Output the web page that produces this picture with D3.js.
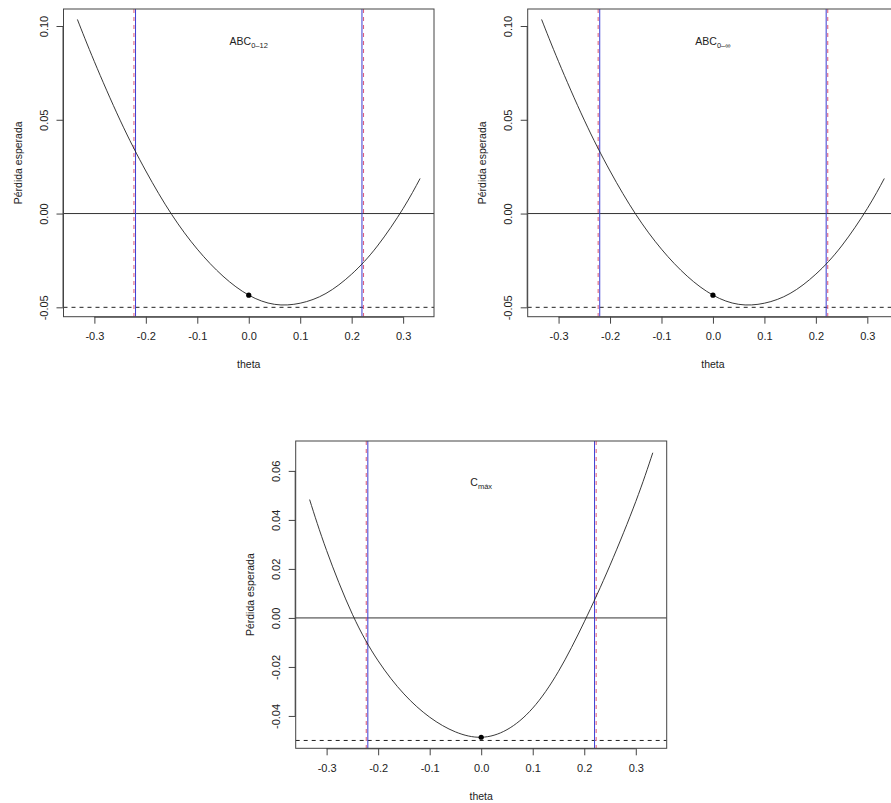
<!DOCTYPE html>
<html>
<head>
<meta charset="utf-8">
<script src="https://cdn.jsdelivr.net/npm/d3@7"></script>
<style>
  body { margin: 0; background: #fff; }
  svg { display: block; font-family: "Liberation Sans", Arial, sans-serif; }
  .tickLabel { font-size: 11px; fill: #222; }
  .axisText { font-size: 10.5px; fill: #222; }
</style>
</head>
<body>
<div class="chart"></div>
<script>
// values
var theta = [-0.333, -0.30, -0.25, -0.20, -0.15, -0.10, -0.05, 0, 0.05, 0.10, 0.15, 0.20, 0.25, 0.30, 0.333];
var lossABC012 = [0.1035, 0.0810, 0.0498, 0.0227, -0.0004, -0.0190, -0.0334, -0.0435, -0.0484, -0.0478, -0.0426, -0.0323, -0.0173, 0.0027, 0.0187];
var lossABCinf = [0.1035, 0.0810, 0.0498, 0.0227, -0.0004, -0.0190, -0.0334, -0.0435, -0.0484, -0.0478, -0.0426, -0.0323, -0.0173, 0.0027, 0.0187];
var lossCmax = [0.0483, 0.0275, 0.0015, -0.0175, -0.0310, -0.0405, -0.0465, -0.0487, -0.0456, -0.0368, -0.0218, -0.0016, 0.0215, 0.0475, 0.0674];

var xTicks = [-0.3, -0.2, -0.1, 0.0, 0.1, 0.2, 0.3];
var yTicksABC = [-0.05, 0.00, 0.05, 0.10];
var yTicksC = [-0.04, -0.02, 0.00, 0.02, 0.04, 0.06];

var blueLimits = [-0.22, 0.22];
var redLimits = [-0.2231, 0.2231];
var hLines = [0];
var dashedLines = [-0.05];

var pointTheta = 0;
var labelY = [0.09, 0.09, 0.054];

// R style numbers, plain hyphen for negatives
var fmt1 = d => d3.format(".1f")(d).replace("\u2212", "-");
var fmt2 = d => d3.format(".2f")(d).replace("\u2212", "-");

// svg
var widthSVG = 891;
var heightSVG = 803;

var svg = d3.select(".chart")
  .append("svg")
  .attr("width", widthSVG)
  .attr("height", heightSVG);

svg.append("rect").attr("width", widthSVG).attr("height", heightSVG).attr("fill", "#fff");

var panels = [
  { left: 63.5, top: 9, width: 370.5, height: 307.7, y: lossABC012, yDomain: [-0.0550, 0.10907], yTicks: yTicksABC, main: "ABC", sub: "0\u201312", labelY: labelY[0] },
  { left: 527.7, top: 9, width: 370.5, height: 307.7, y: lossABCinf, yDomain: [-0.0550, 0.10907], yTicks: yTicksABC, main: "ABC", sub: "0\u2013\u221e", labelY: labelY[1] },
  { left: 295.7, top: 441, width: 371, height: 307.3, y: lossCmax, yDomain: [-0.0532, 0.0722], yTicks: yTicksC, main: "C", sub: "m\u00e1x", labelY: labelY[2] }
];

panels.forEach(function (p, i) {
  var g = svg.append("g").attr("transform", `translate(${p.left}, ${p.top})`);

  var xScale = d3.scaleLinear().domain([-0.36, 0.36]).range([0, p.width]);
  var yScale = d3.scaleLinear().domain(p.yDomain).range([p.height, 0]);

  g.append("clipPath").attr("id", "clip" + i)
    .append("rect").attr("width", p.width).attr("height", p.height);

  var plot = g.append("g").attr("clip-path", `url(#clip${i})`);

  // reference lines
  plot.selectAll(".hline").data(hLines).enter().append("line")
    .attr("x1", 0).attr("x2", p.width)
    .attr("y1", d => yScale(d)).attr("y2", d => yScale(d))
    .attr("stroke", "#333").attr("stroke-width", 1);

  plot.selectAll(".dline").data(dashedLines).enter().append("line")
    .attr("x1", 0).attr("x2", p.width)
    .attr("y1", d => yScale(d)).attr("y2", d => yScale(d))
    .attr("stroke", "#222").attr("stroke-width", 1)
    .attr("stroke-dasharray", "4,4");

  plot.selectAll(".bline").data(blueLimits).enter().append("line")
    .attr("x1", d => xScale(d)).attr("x2", d => xScale(d))
    .attr("y1", 0).attr("y2", p.height)
    .attr("stroke", "#3c3cd2").attr("stroke-width", 1);

  plot.selectAll(".rline").data(redLimits).enter().append("line")
    .attr("x1", d => xScale(d)).attr("x2", d => xScale(d))
    .attr("y1", 0).attr("y2", p.height)
    .attr("stroke", "#dc5a78").attr("stroke-width", 1)
    .attr("stroke-dasharray", "4,4");

  // curve
  var line = d3.line()
    .x((d, j) => xScale(theta[j]))
    .y(d => yScale(d))
    .curve(d3.curveNatural);

  plot.append("path")
    .datum(p.y)
    .attr("d", line)
    .attr("fill", "none")
    .attr("stroke", "#222")
    .attr("stroke-width", 0.9);

  var k = theta.indexOf(pointTheta);
  plot.append("circle")
    .attr("cx", xScale(pointTheta))
    .attr("cy", yScale(p.y[k]))
    .attr("r", 2.6)
    .attr("fill", "#000");

  // label
  var lab = plot.append("text")
    .attr("x", xScale(0))
    .attr("y", yScale(p.labelY))
    .attr("text-anchor", "middle")
    .attr("class", "axisText")
    .attr("font-size", "10.5px");
  lab.append("tspan").text(p.main);
  lab.append("tspan").attr("dy", 3).attr("font-size", "7.5px").text(p.sub);

  // box
  g.append("rect")
    .attr("width", p.width).attr("height", p.height)
    .attr("fill", "none").attr("stroke", "#444").attr("stroke-width", 1);

  // x axis
  var xAxis = d3.axisBottom(xScale).tickValues(xTicks).tickSize(7).tickFormat(fmt1);
  var gx = g.append("g").attr("transform", `translate(0, ${p.height})`).call(xAxis);
  gx.select(".domain").attr("stroke", "#444")
    .attr("d", `M${xScale(xTicks[0])},0.5H${xScale(xTicks[xTicks.length - 1])}`);
  gx.selectAll(".tick line").attr("stroke", "#444");
  gx.selectAll(".tick text").attr("class", "tickLabel").attr("font-family", null).attr("font-size", null)
    .attr("y", 16).attr("dy", "0.71em").attr("fill", null);

  // y axis
  var yAxis = d3.axisLeft(yScale).tickValues(p.yTicks).tickSize(7).tickFormat(fmt2);
  var gy = g.append("g").call(yAxis);
  gy.select(".domain").attr("stroke", "#444")
    .attr("d", `M-0.5,${yScale(p.yTicks[0])}V${yScale(p.yTicks[p.yTicks.length - 1])}`);
  gy.selectAll(".tick line").attr("stroke", "#444");
  gy.selectAll(".tick text").attr("class", "tickLabel").attr("font-family", null).attr("font-size", null)
    .attr("fill", null)
    .attr("x", null).attr("dy", null)
    .attr("text-anchor", "middle")
    .attr("transform", "translate(-16, 0) rotate(-90)");

  // axis titles
  g.append("text")
    .attr("class", "axisText")
    .attr("text-anchor", "middle")
    .attr("x", p.width / 2)
    .attr("y", p.height + 51.5)
    .text("theta");

  g.append("text")
    .attr("class", "axisText")
    .attr("text-anchor", "middle")
    .attr("transform", `translate(-42, ${p.height / 2}) rotate(-90)`)
    .text("Pérdida esperada");
});
</script>
</body>
</html>
